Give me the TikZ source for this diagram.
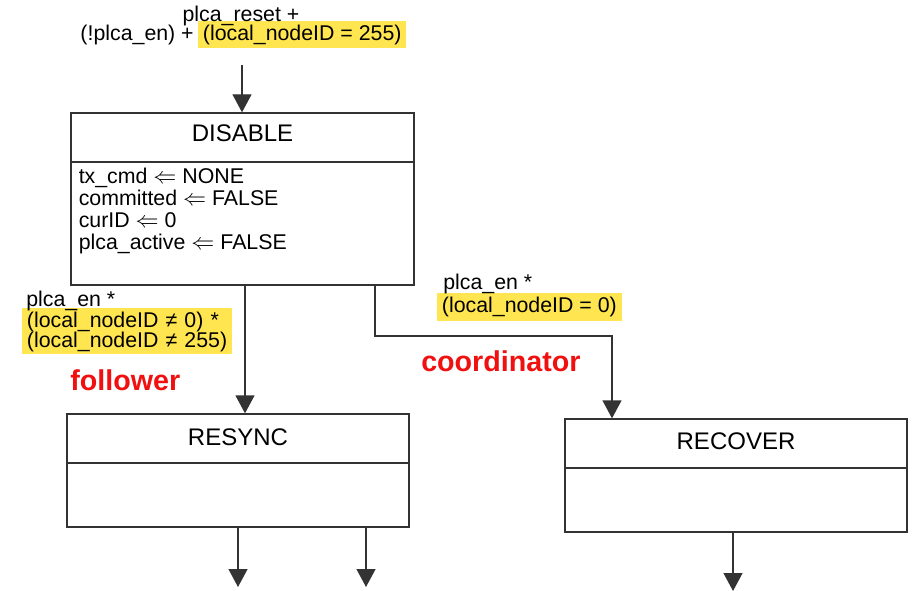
\documentclass[tikz,border=0pt]{standalone}
\usepackage{fontspec}
\setmainfont{Liberation Sans}
\usetikzlibrary{arrows.meta}
\definecolor{hl}{HTML}{FFE650}
\definecolor{ln}{HTML}{333333}
\definecolor{rd}{HTML}{F01010}
\begin{document}
\begin{tikzpicture}[x=0.75pt,y=-0.75pt,
  lbl/.style={inner sep=0pt, anchor=base west, font=\fontsize{16pt}{16.5pt}\selectfont},
  ttl/.style={inner sep=0pt, anchor=base, font=\fontsize{18pt}{20pt}\selectfont},
  statebox/.style={draw=ln, line width=1pt, inner sep=0pt, minimum width=256.5pt, minimum height=84.75pt},
  divider/.style={draw=ln, line width=1pt},
  arr/.style={draw=ln, line width=1pt, -{Triangle[width=14.25pt,length=13.5pt]}},
  hlbox/.style={fill=hl, anchor=base west, inner xsep=3.5pt, inner ysep=0pt, font=\fontsize{16pt}{16.5pt}\selectfont},
  role/.style={text=rd, inner sep=0pt, anchor=base west, font=\fontsize{21.5pt}{24pt}\selectfont\bfseries}]
\useasboundingbox (0,0) rectangle (920,591);

% DISABLE state
\node[statebox, minimum width=257.25pt, minimum height=129pt] (dis) at (242.5,199) {};
\node[ttl] (disT) at (242.5,142) {DISABLE};
\draw[divider] (dis.west |- 0,162) -- (dis.east |- 0,162);
\node[lbl] (d1) at (78.5,184) {tx\_cmd $\Leftarrow$ NONE};
\node[lbl] (d2) at (78.5,206) {committed $\Leftarrow$ FALSE};
\node[lbl] (d3) at (78.5,228) {curID $\Leftarrow$ 0};
\node[lbl] (d4) at (78.5,250) {plca\_active $\Leftarrow$ FALSE};

% RESYNC state
\node[statebox] (res) at (238,470.5) {};
\node[ttl] (resT) at (238,445) {RESYNC};
\draw[divider] (res.west |- 0,463) -- (res.east |- 0,463);

% RECOVER state
\node[statebox] (rec) at (736,475.5) {};
\node[ttl] (recT) at (736,449) {RECOVER};
\draw[divider] (rec.west |- 0,468) -- (rec.east |- 0,468);

% entry condition
\node[hlbox, text height=15pt, text depth=5.25pt] (t2b) at (198,41) {(local\_nodeID = 255)};
\node[lbl, anchor=base east] (t2a) at (194,41) {(!plca\_en) +};
\node[lbl, anchor=base] (t1) at (241,22) {plca\_reset +};
\coordinate (tin) at (242,65);
\draw[arr] (tin) -- (tin |- dis.north);

% follower transition
\node[hlbox, text width=150.5pt, align=left, text height=12.75pt, text depth=4.5pt] (l3) at (22,348) {(local\_nodeID ≠ 255)};
\node[hlbox, text width=150.5pt, align=left, text height=14.25pt, text depth=3pt] (l2) at (22,327) {(local\_nodeID ≠ 0) *};
\node[lbl] (l1) at (26,306) {plca\_en *};
\node[role] (fol) at (70,390) {follower};
\coordinate (a1) at (245,285);
\draw[arr] (a1) -- (a1 |- res.north);

% coordinator transition
\node[hlbox, text height=15pt, text depth=6pt] (r2) at (437,313) {(local\_nodeID = 0)};
\node[lbl] (r1) at (443,290) {plca\_en *};
\node[role] (coo) at (421,371) {coordinator};
\coordinate (a2) at (375,285);
\coordinate (a3) at (612,336);
\draw[arr] (a2) |- (a3) -- (a3 |- rec.north);

% exits
\coordinate (o1) at (238,587);
\coordinate (o2) at (366,587);
\coordinate (o3) at (733,591);
\draw[arr] (o1 |- res.south) -- (o1);
\draw[arr] (o2 |- res.south) -- (o2);
\draw[arr] (o3 |- rec.south) -- (o3);
\end{tikzpicture}
\end{document}
